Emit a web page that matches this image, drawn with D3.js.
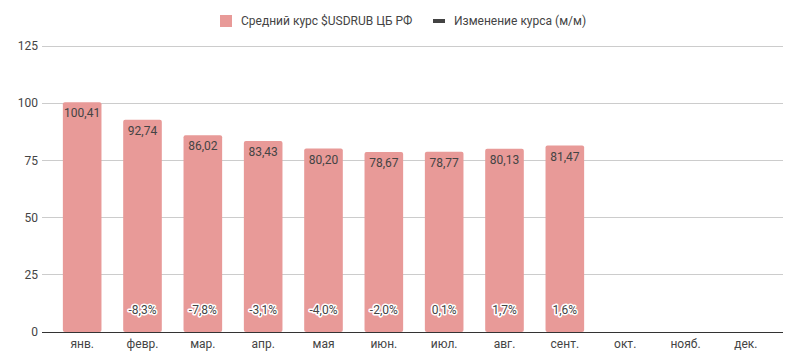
<!DOCTYPE html>
<html><head><meta charset="utf-8">
<script src="https://cdn.jsdelivr.net/npm/d3@7"></script>
<style>body{margin:0;background:#fff;font-family:Roboto,Arial,sans-serif;}</style>
</head><body><svg id="c" width="802" height="364"></svg>
<script>
const months = ["янв.","февр.","мар.","апр.","мая","июн.","июл.","авг.","сент.","окт.","нояб.","дек."];
const rates = [100.41, 92.74, 86.02, 83.43, 80.20, 78.67, 78.77, 80.13, 81.47, null, null, null];
const changes = [null, -8.3, -7.8, -3.1, -4.0, -2.0, 0.1, 1.7, 1.6, null, null, null];
const yTicks = [0, 25, 50, 75, 100, 125];
const seriesNames = ["Средний курс $USDRUB ЦБ РФ", "Изменение курса (м/м)"];

const svg = d3.select("#c");
const barColor = "#e89a98", textColor = "#444";
const x = d3.scaleBand().domain(months).range([52, 776]).paddingInner(0.36).paddingOuter(0.18);
const y = d3.scaleLinear().domain([0, 125]).range([332, 46]);
const fmt = v => v.toFixed(2).replace(".", ",");
const fmtP = v => v.toFixed(1).replace(".", ",") + "%";

// grid
svg.append("g").selectAll("line").data(yTicks.slice(1)).join("line")
  .attr("x1", 42).attr("x2", 783).attr("y1", d => y(d)).attr("y2", d => y(d))
  .attr("stroke", "#cccccc").attr("stroke-width", 1).attr("shape-rendering", "crispEdges");
svg.append("g").selectAll("text").data(yTicks).join("text")
  .attr("x", 38).attr("y", d => y(d)).attr("dy", "0.35em").attr("text-anchor", "end")
  .attr("font-size", 12).attr("fill", textColor).text(d => d);

// bars
const idx = d3.range(months.length);
svg.append("g").selectAll("rect").data(idx.filter(i => rates[i] != null)).join("rect")
  .attr("x", i => x(months[i])).attr("width", x.bandwidth())
  .attr("y", i => y(rates[i])).attr("height", i => y(0) - y(rates[i]))
  .attr("rx", 2).attr("fill", barColor);

// baseline
svg.append("line").attr("x1", 42).attr("x2", 783).attr("y1", y(0)).attr("y2", y(0))
  .attr("stroke", "#333").attr("stroke-width", 1).attr("shape-rendering", "crispEdges");

// value labels
svg.append("g").selectAll("text").data(idx.filter(i => rates[i] != null)).join("text")
  .attr("x", i => x(months[i]) + x.bandwidth() / 2).attr("y", i => y(rates[i]) + 11)
  .attr("dy", "0.35em").attr("text-anchor", "middle").attr("font-size", 12).attr("fill", textColor)
  .text(i => fmt(rates[i]));

// change labels (halo)
const ch = svg.append("g").selectAll("g").data(idx.filter(i => changes[i] != null)).join("g");
ch.append("text").attr("x", i => x(months[i]) + x.bandwidth() / 2).attr("y", 310)
  .attr("dy", "0.35em").attr("text-anchor", "middle").attr("font-size", 12)
  .attr("fill", "none").attr("stroke", "#fff").attr("stroke-width", 3).attr("stroke-linejoin", "round")
  .text(i => fmtP(changes[i]));
ch.append("text").attr("x", i => x(months[i]) + x.bandwidth() / 2).attr("y", 310)
  .attr("dy", "0.35em").attr("text-anchor", "middle").attr("font-size", 12).attr("fill", textColor)
  .text(i => fmtP(changes[i]));

// x labels
svg.append("g").selectAll("text").data(months).join("text")
  .attr("x", d => x(d) + x.bandwidth() / 2).attr("y", 344).attr("dy", "0.35em")
  .attr("text-anchor", "middle").attr("font-size", 12).attr("fill", textColor).text(d => d);

// legend
const lg = svg.append("g");
lg.append("rect").attr("x", 220).attr("y", 15).attr("width", 12).attr("height", 12).attr("fill", barColor);
lg.append("text").attr("x", 241).attr("y", 21).attr("dy", "0.35em").attr("font-size", 12)
  .attr("fill", textColor).text(seriesNames[0]);
lg.append("rect").attr("x", 433).attr("y", 19).attr("width", 12).attr("height", 4).attr("fill", "#434343");
lg.append("text").attr("x", 454).attr("y", 21).attr("dy", "0.35em").attr("font-size", 12)
  .attr("fill", textColor).text(seriesNames[1]);
</script></body></html>
